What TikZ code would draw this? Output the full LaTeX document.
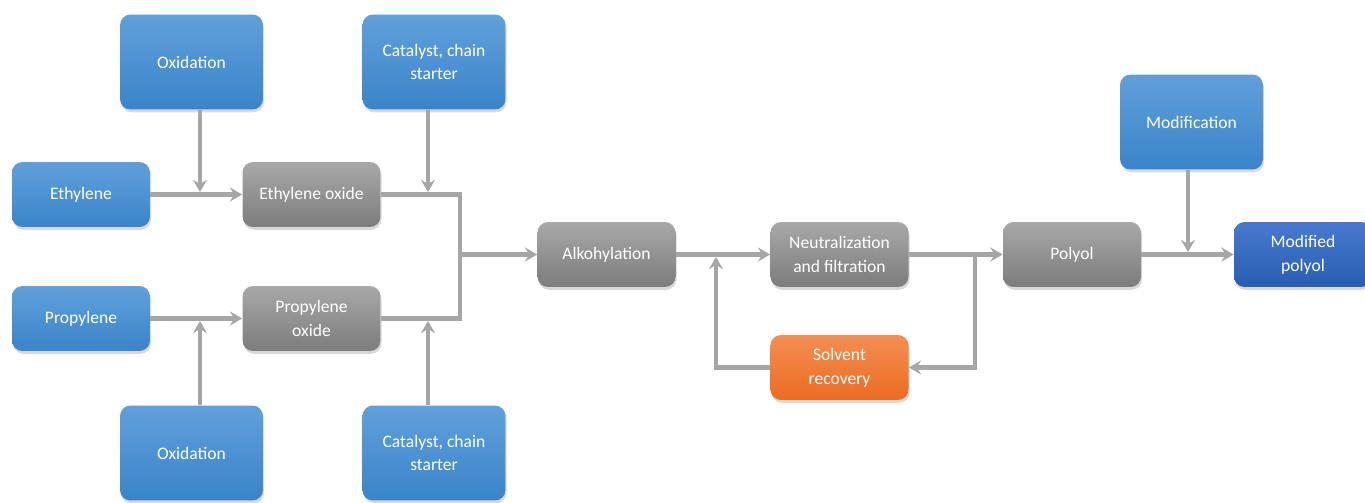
\documentclass[tikz,border=0pt]{standalone}
\usepackage{fontspec}
\setmainfont{Carlito}
\usetikzlibrary{arrows.meta, shadows}

\definecolor{boxblue1}{RGB}{96,160,218}
\definecolor{boxblue2}{RGB}{58,132,202}
\definecolor{boxgray1}{RGB}{168,168,168}
\definecolor{boxgray2}{RGB}{124,124,124}
\definecolor{boxorange1}{RGB}{243,142,82}
\definecolor{boxorange2}{RGB}{236,108,34}
\definecolor{boxdark1}{RGB}{72,122,206}
\definecolor{boxdark2}{RGB}{40,94,178}
\definecolor{linegray}{RGB}{166,166,166}

\tikzset{
  box/.style={rounded corners=6pt, minimum width=2.76cm, minimum height=1.3cm,
    text=white, align=center, font=\fontsize{10}{13.6}\selectfont,
    drop shadow={shadow xshift=0.6pt, shadow yshift=-1.6pt, opacity=.3}},
  bluebox/.style={box, top color=boxblue1, bottom color=boxblue2},
  tallbox/.style={bluebox, minimum width=2.86cm, minimum height=1.9cm},
  graybox/.style={box, top color=boxgray1, bottom color=boxgray2},
  orangebox/.style={box, top color=boxorange1, bottom color=boxorange2},
  darkbox/.style={box, top color=boxdark1, bottom color=boxdark2},
  line/.style={draw=linegray, line width=2.8pt},
  feed/.style={line, ->, shorten >=1.4pt}
}

\begin{document}
\begin{tikzpicture}[x=0.02cm, y=-0.02cm, >={Stealth[length=7pt, width=8pt, inset=2.5pt]}]

\useasboundingbox (0,0) rectangle (1365,503);

% raw materials
\node[tallbox] (oxtop) at (191.5,62) {Oxidation};
\node[tallbox] (cattop) at (434,62) {Catalyst, chain\\starter};
\node[bluebox] (eth) at (81,194.5) {Ethylene};
\node[graybox] (ethox) at (311.5,194.5) {Ethylene oxide};
\node[bluebox] (prop) at (81,318.5) {Propylene};
\node[graybox] (propox) at (311.5,318.5) {Propylene\\oxide};
\node[tallbox] (oxbot) at (191.5,453) {Oxidation};
\node[tallbox] (catbot) at (434,453) {Catalyst, chain\\starter};

% process line
\node[graybox] (alk) at (606.5,254.5) {Alkohylation};
\node[graybox] (neut) at (839.5,254.5) {Neutralization\\and filtration};
\node[orangebox] (solv) at (839.5,367.5) {Solvent\\recovery};
\node[graybox] (poly) at (1072,254.5) {Polyol};
\node[tallbox] (mod) at (1191.5,122) {Modification};
\node[darkbox] (modpoly) at (1303,254.5) {Modified\\polyol};

% junctions
\coordinate (j1) at (200,194.5);
\coordinate (j2) at (428,194.5);
\coordinate (j3) at (200,318.5);
\coordinate (j4) at (428,318.5);
\coordinate (bus) at (460,254.5);
\coordinate (ret) at (716,254.5);
\coordinate (split) at (975,254.5);
\coordinate (j5) at (1188,254.5);

\draw[line,->] (eth) -- (ethox);
\draw[line,->] (prop) -- (propox);
\draw[feed] (oxtop.south -| j1) -- (j1);
\draw[feed] (cattop.south -| j2) -- (j2);
\draw[feed] (oxbot.north -| j3) -- (j3);
\draw[feed] (catbot.north -| j4) -- (j4);

\draw[line] (ethox.east) -| (bus);
\draw[line] (propox.east) -| (bus);
\draw[line,->] (bus) -- (alk.west);

\draw[line,->] (alk) -- (neut);
\draw[feed] (solv.west) -| (ret);
\draw[line,->] (neut) -- (poly);
\draw[line,->] (split) |- (solv.east);

\draw[line,->] (poly) -- (modpoly);
\draw[feed] (mod.south -| j5) -- (j5);

\end{tikzpicture}
\end{document}
